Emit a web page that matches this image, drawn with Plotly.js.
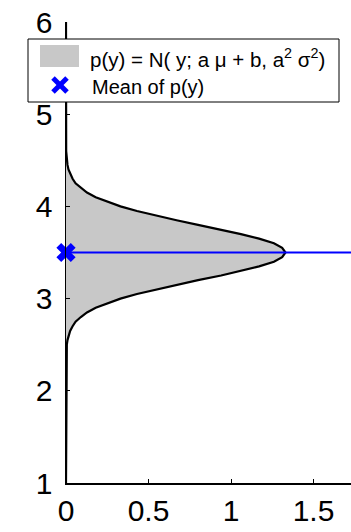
<!DOCTYPE html>
<html>
<head>
<meta charset="utf-8">
<script src="https://cdn.plot.ly/plotly-3.0.1.min.js"></script>
<style>
  html, body { margin: 0; padding: 0; background: #ffffff; }
  #chart { width: 351px; height: 532px; }
</style>
</head>
<body>
<div id="chart"></div>
<script>
// values
var yValues = [1.0, 2.4, 2.5, 2.55, 2.6, 2.65, 2.7, 2.75, 2.8, 2.85, 2.9, 2.95, 3.0, 3.05, 3.1, 3.15, 3.2, 3.25, 3.3, 3.35, 3.4, 3.45, 3.5,
               3.55, 3.6, 3.65, 3.7, 3.75, 3.8, 3.85, 3.9, 3.95, 4.0, 4.05, 4.1, 4.15, 4.2, 4.25, 4.3, 4.35, 4.4, 4.45, 4.5, 4.6, 6.0];
var density = [0, 0.001, 0.005, 0.009, 0.015, 0.025, 0.04, 0.058, 0.09, 0.127, 0.18, 0.25, 0.33, 0.43, 0.55, 0.67, 0.80, 0.94, 1.06, 1.17, 1.26, 1.31, 1.33,
               1.31, 1.26, 1.17, 1.06, 0.94, 0.80, 0.67, 0.55, 0.43, 0.33, 0.25, 0.18, 0.127, 0.09, 0.058, 0.04, 0.025, 0.015, 0.009, 0.005, 0.001, 0];
var meanY = 3.5;
var meanX = 0;
var xTicks = [0, 0.5, 1, 1.5];
var xTickText = ['0', '0.5', '1', '1.5'];
var yTicks = [1, 2, 3, 4, 5, 6];
var yTickText = ['1', '2', '3', '4', '5', '6'];
var xRange = [0, 1.727];
var yRange = [1, 6];
var fillName = 'p(y) = N( y; a \u03BC + b, a<sup>2</sup> \u03C3<sup>2</sup>)';
var meanName = 'Mean of p(y)';

var FONT = 'Liberation Sans, Arial, Helvetica, sans-serif';
var FILL = 'rgb(200,200,200)';
var BLUE = '#0000ff';

var traces = [
  {
    type: 'scatter', mode: 'lines', x: density, y: yValues,
    fill: 'tozerox', fillcolor: FILL,
    line: { width: 0, color: FILL },
    name: fillName, showlegend: false, hoverinfo: 'skip'
  },
  {
    type: 'scatter', mode: 'lines', x: density, y: yValues,
    line: { width: 2.2, color: '#000000' },
    showlegend: false, hoverinfo: 'skip'
  },
  {
    type: 'scatter', mode: 'lines', x: [meanX, xRange[1]], y: [meanY, meanY],
    line: { width: 2, color: BLUE },
    showlegend: false, hoverinfo: 'skip'
  },
  {
    type: 'scatter', mode: 'markers', x: [meanX], y: [meanY],
    marker: { symbol: 'x', size: 17, color: BLUE },
    cliponaxis: false, name: meanName, showlegend: false
  }
];

// legend box drawn in paper coordinates (plot area: 285 x 461 px)
function px(v) { return (v - 66) / 285; }
function py(v) { return (483 - v) / 461; }

var shapes = [
  { type: 'rect', xref: 'paper', yref: 'paper', x0: px(28), x1: px(339), y0: py(102), y1: py(39),
    fillcolor: '#ffffff', line: { color: '#000000', width: 1 }, layer: 'above' },
  { type: 'rect', xref: 'paper', yref: 'paper', x0: px(40), x1: px(79), y0: py(67), y1: py(45),
    fillcolor: FILL, line: { width: 0 }, layer: 'above' },
  { type: 'line', xref: 'paper', yref: 'paper', x0: px(53), x1: px(67), y0: py(78), y1: py(92),
    line: { color: BLUE, width: 5 }, layer: 'above' },
  { type: 'line', xref: 'paper', yref: 'paper', x0: px(53), x1: px(67), y0: py(92), y1: py(78),
    line: { color: BLUE, width: 5 }, layer: 'above' }
];

var annotations = [
  { xref: 'paper', yref: 'paper', x: px(88), y: py(58), xanchor: 'left', yanchor: 'middle',
    text: fillName, showarrow: false, font: { family: FONT, size: 20.5, color: '#000000' } },
  { xref: 'paper', yref: 'paper', x: px(90), y: py(87), xanchor: 'left', yanchor: 'middle',
    text: meanName, showarrow: false, font: { family: FONT, size: 20, color: '#000000' } }
];

var layout = {
  width: 351, height: 532,
  margin: { l: 66, r: 0, t: 22, b: 49, pad: 0 },
  paper_bgcolor: '#ffffff', plot_bgcolor: '#ffffff',
  font: { family: FONT, color: '#000000' },
  showlegend: false,
  shapes: shapes,
  annotations: annotations,
  xaxis: {
    range: xRange, tickmode: 'array', tickvals: xTicks, ticktext: xTickText,
    showline: true, linecolor: '#000000', linewidth: 1.5,
    ticks: 'inside', ticklen: 4, tickcolor: '#000000', tickwidth: 1,
    showgrid: false, zeroline: false,
    tickfont: { family: FONT, size: 30, color: '#000000' },
    ticklabelstandoff: 0, fixedrange: true
  },
  yaxis: {
    range: yRange, tickmode: 'array', tickvals: yTicks, ticktext: yTickText,
    showline: true, linecolor: '#000000', linewidth: 1.5,
    ticks: 'inside', ticklen: 4, tickcolor: '#000000', tickwidth: 1,
    showgrid: false, zeroline: false,
    tickfont: { family: FONT, size: 30, color: '#000000' },
    ticklabelstandoff: 6, fixedrange: true
  }
};

Plotly.newPlot('chart', traces, layout, { displayModeBar: false, staticPlot: true });
</script>
</body>
</html>
